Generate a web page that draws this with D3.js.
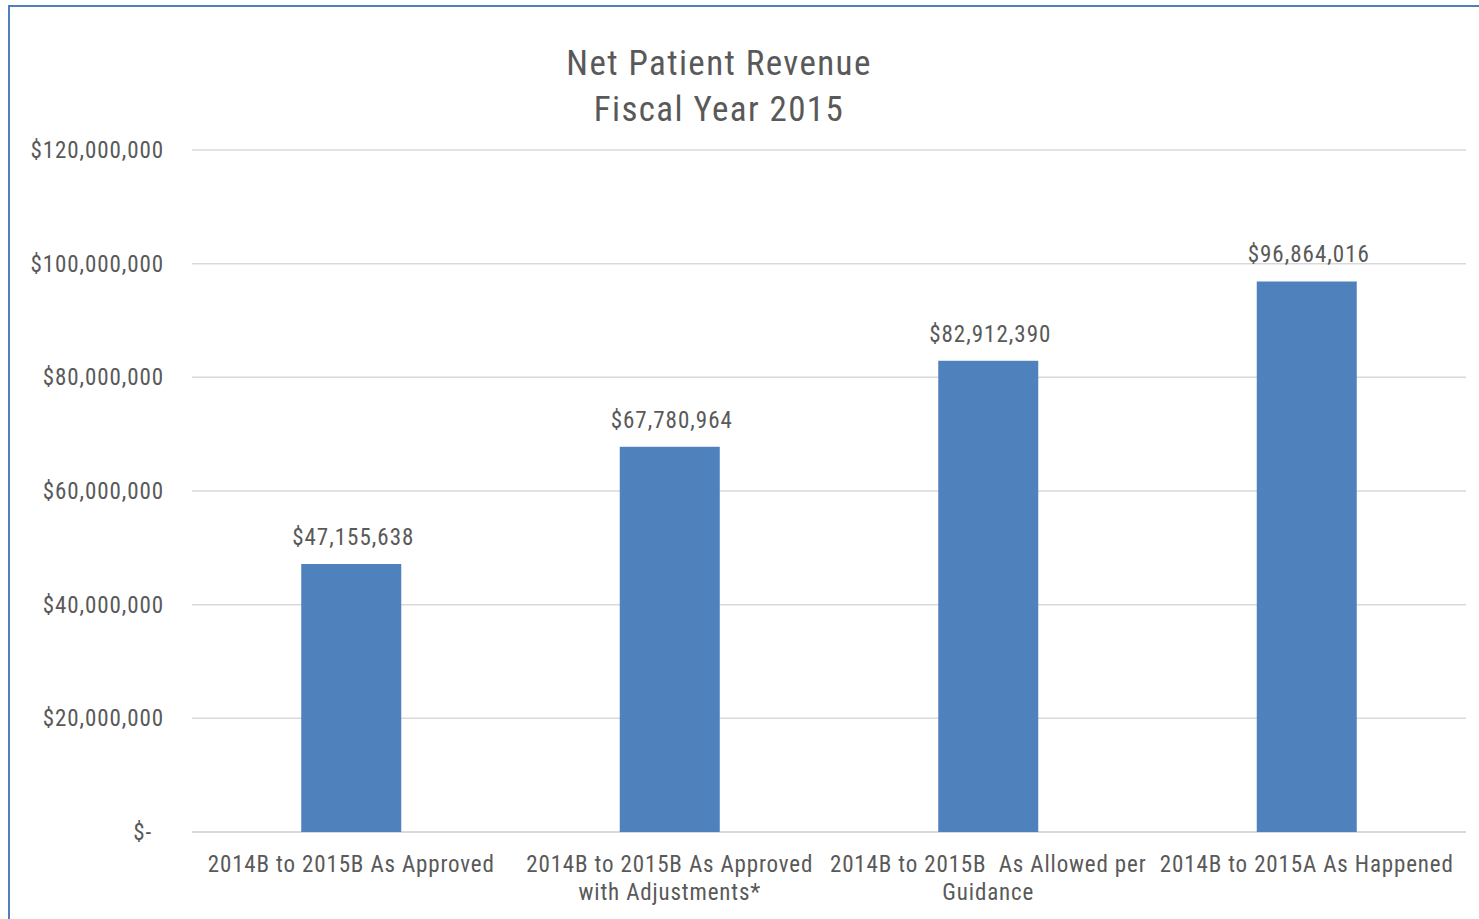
<!DOCTYPE html>
<html>
<head>
<meta charset="utf-8">
<script src="https://cdn.jsdelivr.net/npm/d3@7"></script>
<style>
  body { margin: 0; background: #fff; }
  svg text { font-family: "Liberation Sans Narrow", "Roboto Condensed", "Liberation Sans", sans-serif; fill: #595959; }
</style>
</head>
<body>
<div id="chart"></div>
<script>
// data
const categories = [
    "2014B to 2015B As Approved",
    "2014B to 2015B As Approved with Adjustments*",
    "2014B to 2015B  As Allowed per Guidance",
    "2014B to 2015A As Happened"
];
const revenue = [47155638, 67780964, 82912390, 96864016];
const yTicks = [0, 20000000, 40000000, 60000000, 80000000, 100000000, 120000000];
const titleLines = ["Net Patient Revenue", "Fiscal Year 2015"];

const width = 1479, height = 919;
const margin = {top: 150, right: 13, bottom: 87, left: 192};

let svg = d3.select("#chart").append("svg")
    .attr("width", width)
    .attr("height", height);

// outer frame
svg.append("rect")
    .attr("x", 9)
    .attr("y", 6)
    .attr("width", width + 20)
    .attr("height", height + 20)
    .attr("fill", "none")
    .attr("stroke", "#4f7fc0")
    .attr("stroke-width", 2);

let xScale = d3.scaleBand()
    .domain(categories)
    .range([margin.left, width - margin.right])
    .paddingInner(0.686)
    .paddingOuter(0.343);

let yScale = d3.scaleLinear()
    .domain([0, 120000000])
    .range([height - margin.bottom, margin.top]);

let fmt = d3.format(",");

// gridlines
svg.append("g").selectAll("line")
    .data(yTicks)
    .enter().append("line")
    .attr("x1", margin.left)
    .attr("x2", width - margin.right)
    .attr("y1", d => yScale(d))
    .attr("y2", d => yScale(d))
    .attr("stroke", "#d9d9d9")
    .attr("stroke-width", d => d === 0 ? 2 : 1.5);

// y axis labels
let yAxis = d3.axisLeft(yScale)
    .tickValues(yTicks)
    .tickSize(0)
    .tickPadding(28)
    .tickFormat(d => d === 0 ? "$-" : "$" + fmt(d));

let yAx = svg.append("g")
    .attr("transform", "translate(" + margin.left + ",0)")
    .call(yAxis);
yAx.select(".domain").remove();
yAx.selectAll("text")
    .style("font-size", "23px")
    .style("letter-spacing", "0.9px")
    .attr("fill", "#595959")
    .attr("dx", d => d === 0 ? -12 : 0);

// bars
svg.append("g").selectAll("rect")
    .data(revenue)
    .enter().append("rect")
    .attr("x", (d, i) => xScale(categories[i]))
    .attr("y", d => yScale(d))
    .attr("width", xScale.bandwidth())
    .attr("height", d => yScale(0) - yScale(d))
    .attr("fill", "#4f81bd");

// value labels
svg.append("g").selectAll("text")
    .data(revenue)
    .enter().append("text")
    .attr("x", (d, i) => xScale(categories[i]) + xScale.bandwidth() / 2 + 2)
    .attr("y", d => yScale(d) - 19)
    .attr("text-anchor", "middle")
    .style("font-size", "23px")
    .style("letter-spacing", "1px")
    .text(d => "$" + fmt(d));

// category labels, wrapped to band step
let step = xScale.step();
let catLabels = svg.append("g").selectAll("text")
    .data(categories)
    .enter().append("text")
    .attr("x", d => xScale(d) + xScale.bandwidth() / 2)
    .attr("y", height - margin.bottom + 40)
    .attr("text-anchor", "middle")
    .attr("xml:space", "preserve")
    .style("font-size", "23px")
    .style("letter-spacing", "0.85px");

catLabels.each(function (d) {
    let text = d3.select(this);
    let x = text.attr("x");
    let words = d.split(" ");
    let line = [];
    let tspan = text.append("tspan").attr("x", x).attr("dy", 0);
    words.forEach(w => {
        line.push(w);
        tspan.text(line.join(" "));
        if (tspan.node().getComputedTextLength() > step + 2 && line.length > 1) {
            line.pop();
            tspan.text(line.join(" "));
            line = [w];
            tspan = text.append("tspan").attr("x", x).attr("dy", 28).text(w);
        }
    });
});

// title
svg.append("text")
    .attr("x", 719)
    .attr("y", 75)
    .attr("text-anchor", "middle")
    .style("font-size", "35px")
    .style("letter-spacing", "1.4px")
    .selectAll("tspan")
    .data(titleLines)
    .enter().append("tspan")
    .attr("x", 719)
    .attr("dy", (d, i) => i === 0 ? 0 : 46)
    .text(d => d);
</script>
</body>
</html>
